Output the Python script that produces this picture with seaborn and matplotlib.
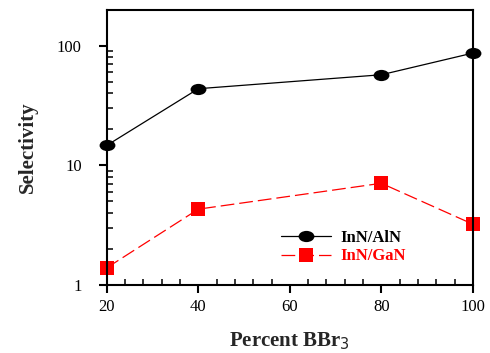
import matplotlib
matplotlib.use("Agg")
import matplotlib.pyplot as plt
import matplotlib.ticker as mticker
from matplotlib.lines import Line2D
from matplotlib.markers import MarkerStyle
from matplotlib.transforms import Affine2D
import numpy as np
import pandas as pd
import seaborn as sns

# Measured selectivity versus BBr3 fraction
percent_bbr3 = [20, 40, 80, 100]
sel_inn_aln = [14.7, 43.8, 57.3, 87.0]
sel_inn_gan = [1.39, 4.3, 7.08, 3.22]
series_names = ["InN/AlN", "InN/GaN"]
x_ticks = [20, 40, 60, 80, 100]
y_ticks = [1, 10, 100]

df = pd.DataFrame({
    "Percent": percent_bbr3 * 2,
    "Selectivity": sel_inn_aln + sel_inn_gan,
    "Pair": [series_names[0]] * len(percent_bbr3) + [series_names[1]] * len(percent_bbr3),
})

sns.set_style("white")
plt.rcParams["font.family"] = ["Liberation Serif", "DejaVu Serif"]

fig = plt.figure(figsize=(4.9, 3.53), dpi=100)
ax = fig.add_axes([0.218, 0.193, 0.747, 0.779])

red = "#ff0000"
colors = {"InN/AlN": "black", "InN/GaN": red}
ellipse = MarkerStyle("o", transform=Affine2D().scale(1.2, 0.85))
sns.lineplot(data=df, x="Percent", y="Selectivity", hue="Pair", style="Pair",
             palette=colors, markers={"InN/AlN": "o", "InN/GaN": "s"},
             dashes={"InN/AlN": "", "InN/GaN": (11, 4)},
             linewidth=0.9, markersize=9.5, markeredgewidth=0, ax=ax, legend=False)

for line in ax.lines:
    line.set_clip_on(False)
    if line.get_marker() == "o":
        line.set_marker(ellipse)

ax.set_yscale("log")
ax.set_xlim(20, 100)
ax.set_ylim(1, 200)
ax.set_xticks(x_ticks)
ax.xaxis.set_minor_locator(mticker.MultipleLocator(4))
ax.set_yticks(y_ticks)
ax.yaxis.set_major_formatter(mticker.FuncFormatter(lambda v, p: f"{v:g}"))
ax.yaxis.set_minor_locator(mticker.LogLocator(base=10, subs=np.arange(2, 10)))
ax.yaxis.set_minor_formatter(mticker.NullFormatter())

for s in ax.spines.values():
    s.set_linewidth(1.5)
    s.set_color("black")

ax.tick_params(axis="both", which="major", direction="out", length=6, width=1.5,
               labelsize=12, colors="black")
ax.tick_params(axis="x", which="major", pad=4)
ax.tick_params(axis="y", which="major", pad=12)
ax.tick_params(axis="both", which="minor", direction="in", length=4.5, width=1.3)
ax.tick_params(axis="y", which="both", left=True, right=False)
ax.tick_params(axis="x", which="both", bottom=True, top=False)

ax.set_xlabel("Percent BBr$_3$", fontsize=15, fontweight="bold", labelpad=11)
ax.set_ylabel("Selectivity", fontsize=15, fontweight="bold", labelpad=14)

# legend with text coloured like its series
handles = [
    Line2D([], [], color="black", lw=0.9, marker=ellipse, markersize=9.5, markeredgewidth=0),
    Line2D([], [], color=red, lw=0.9, ls=(0, (11, 4)), marker="s", markersize=9.5, markeredgewidth=0),
]
leg = ax.legend(handles, series_names, loc="lower left", bbox_to_anchor=(0.435, 0.02),
                frameon=False, handlelength=3.0, handletextpad=0.55,
                prop={"weight": "bold", "size": 12}, labelspacing=0.15)
for txt, c in zip(leg.get_texts(), ["black", red]):
    txt.set_color(c)

fig.savefig("out.png", dpi=100)
